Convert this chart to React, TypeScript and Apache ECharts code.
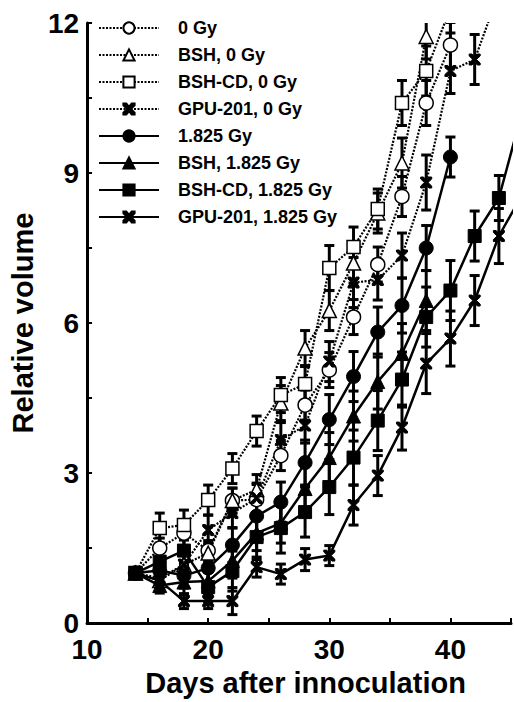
import React, { useEffect, useRef } from "react";
import * as echarts from "echarts";

const days = [14, 16, 18, 20, 22, 24, 26, 28, 30, 32, 34, 36, 38, 40, 42, 44, 46];

const seriesNames = [
  "0 Gy",
  "BSH, 0 Gy",
  "BSH-CD, 0 Gy",
  "GPU-201, 0 Gy",
  "1.825 Gy",
  "BSH, 1.825 Gy",
  "BSH-CD, 1.825 Gy",
  "GPU-201, 1.825 Gy",
];

const gy0 = [1.0, 1.5, 1.8, 1.45, 2.45, 2.47, 3.35, 4.36, 5.06, 6.12, 7.17, 8.53, 10.4, 11.56, null, null, null];
const gy0Err = [0, 0.2, 0.25, 0.2, 0.25, 0.3, 0.3, 0.3, 0.35, 0.35, 0.35, 0.4, 0.45, 0.45, null, null, null];

const bsh0 = [1.0, 0.85, 1.17, 1.4, 2.45, 2.67, 4.4, 5.5, 6.25, 7.2, 8.2, 9.2, 11.73, null, null, null, null];
const bsh0Err = [0, 0.15, 0.2, 0.2, 0.25, 0.3, 0.35, 0.35, 0.4, 0.4, 0.4, 0.5, 0.45, null, null, null, null];

const bshcd0 = [1.0, 1.9, 1.96, 2.46, 3.09, 3.84, 4.56, 4.78, 7.1, 7.52, 8.28, 10.4, 11.04, 12.3, null, null, null];
const bshcd0Err = [0, 0.3, 0.3, 0.3, 0.3, 0.3, 0.35, 0.35, 0.45, 0.4, 0.4, 0.45, 0.5, 0.5, null, null, null];

const gpu0 = [1.0, 0.9, 1.17, 1.86, 2.2, 2.5, 3.66, 3.95, 5.23, 6.81, 6.86, 7.35, 8.81, 11.04, 11.27, 12.6, null];
const gpu0Err = [0, 0.2, 0.2, 0.3, 0.3, 0.3, 0.35, 0.35, 0.4, 0.5, 0.4, 0.45, 0.55, 0.45, 0.5, 0.5, null];

const gy18 = [1.0, 1.05, 0.95, 1.1, 1.56, 2.14, 2.42, 3.21, 4.07, 4.93, 5.82, 6.35, 7.5, 9.32, null, null, null];
const gy18Err = [0, 0.25, 0.25, 0.3, 0.35, 0.35, 0.4, 0.45, 0.5, 0.5, 0.5, 0.55, 0.45, 0.4, null, null, null];

const bsh18 = [1.0, 0.75, 0.82, 0.84, 1.25, 1.8, 2.0, 2.69, 3.31, 4.14, 4.83, 5.39, 6.45, null, null, null, null];
const bsh18Err = [0, 0.15, 0.25, 0.3, 0.35, 0.35, 0.4, 0.45, 0.5, 0.5, 0.55, 0.6, 0.6, null, null, null, null];

const bshcd18 = [1.0, 1.23, 1.45, 0.72, 1.04, 1.72, 1.9, 2.22, 2.72, 3.31, 4.05, 4.87, 6.12, 6.65, 7.74, 8.5, 10.3];
const bshcd18Err = [0, 0.3, 0.3, 0.3, 0.4, 0.45, 0.5, 0.5, 0.55, 0.55, 0.6, 0.55, 0.6, 0.6, 0.5, 0.45, null];

const gpu18 = [1.0, 0.85, 0.44, 0.44, 0.44, 1.12, 0.98, 1.27, 1.35, 2.36, 2.95, 3.91, 5.19, 5.69, 6.45, 7.74, 8.6];
const gpu18Err = [0, 0.2, 0.15, 0.15, 0.27, 0.2, 0.2, 0.22, 0.2, 0.4, 0.4, 0.45, 0.6, 0.55, 0.5, 0.55, null];

const xTicks = [10, 20, 30, 40];
const yTicks = [0, 3, 6, 9, 12];

const FONT = "'Liberation Sans', Arial, Helvetica, sans-serif";
const X_PATH =
  "path://M0,0 L2.6,0 L5,3 L7.4,0 L10,0 L10,1.8 L6.6,5 L10,8.2 L10,10 L7.4,10 L5,7 L2.6,10 L0,10 L0,8.2 L3.4,5 L0,1.8 Z";

export default function App() {
  const ref = useRef<HTMLDivElement>(null);

  useEffect(() => {
    if (!ref.current) return;
    const chart = echarts.init(ref.current, undefined, { renderer: "svg" });

    const defs = [
      { name: seriesNames[0], data: gy0, err: gy0Err, symbol: "circle", filled: false, dotted: true },
      { name: seriesNames[1], data: bsh0, err: bsh0Err, symbol: "triangle", filled: false, dotted: true },
      { name: seriesNames[2], data: bshcd0, err: bshcd0Err, symbol: "rect", filled: false, dotted: true },
      { name: seriesNames[3], data: gpu0, err: gpu0Err, symbol: X_PATH, filled: true, dotted: true },
      { name: seriesNames[4], data: gy18, err: gy18Err, symbol: "circle", filled: true, dotted: false },
      { name: seriesNames[5], data: bsh18, err: bsh18Err, symbol: "triangle", filled: true, dotted: false },
      { name: seriesNames[6], data: bshcd18, err: bshcd18Err, symbol: "rect", filled: true, dotted: false },
      { name: seriesNames[7], data: gpu18, err: gpu18Err, symbol: X_PATH, filled: true, dotted: false },
    ];

    const errSeries = defs.map((d) => ({
      type: "custom",
      name: d.name + " err",
      clip: true,
      z: 1,
      silent: true,
      data: days
        .map((x, i) => {
          const v = d.data[i];
          const e = d.err[i];
          if (v == null || e == null || e === 0) return null;
          return [x, v - e, v + e];
        })
        .filter((p) => p !== null),
      renderItem: (params: any, api: any) => {
        const x = api.value(0);
        const lo = api.value(1);
        const hi = api.value(2);
        const p1 = api.coord([x, hi]);
        const p2 = api.coord([x, lo]);
        const w = 5;
        const st = { stroke: "#000", lineWidth: 3 };
        return {
          type: "group",
          children: [
            { type: "line", shape: { x1: p1[0], y1: p1[1], x2: p2[0], y2: p2[1] }, style: st },
            { type: "line", shape: { x1: p1[0] - w, y1: p1[1], x2: p1[0] + w, y2: p1[1] }, style: st },
            { type: "line", shape: { x1: p2[0] - w, y1: p2[1], x2: p2[0] + w, y2: p2[1] }, style: st },
          ],
        };
      },
    }));

    const lineSeries = defs.map((d) => ({
      type: "line",
      name: d.name,
      z: 3,
      clip: true,
      connectNulls: false,
      data: days.map((x, i) => [x, d.data[i]]).filter((p) => p[1] != null),
      symbol: d.symbol,
      symbolSize: d.symbol === "triangle" ? 14 : d.symbol === "rect" ? 13 : d.symbol === X_PATH ? 11 : 14,
      showAllSymbol: true,
      lineStyle: d.dotted
        ? { color: "#000", width: 2.2, type: [2, 1.5] }
        : { color: "#000", width: 2.5, type: "solid" },
      itemStyle: d.filled
        ? { color: "#000", borderColor: "#000", borderWidth: 1 }
        : { color: "#fff", borderColor: "#000", borderWidth: 1.5 },
    }));

    chart.setOption({
      animation: false,
      backgroundColor: "#fff",
      grid: { left: 83, top: 23, right: 2, bottom: 73, containLabel: false },
      legend: {
        orient: "vertical",
        left: 93,
        top: 14,
        itemWidth: 60,
        itemHeight: 14,
        itemGap: 9,
        data: seriesNames,
        selectedMode: false,
        textStyle: {
          fontFamily: FONT,
          fontWeight: "bold",
          fontSize: 18,
          lineHeight: 14,
          color: "#000",
          padding: [0, 0, 0, 14],
        },
      },
      xAxis: {
        type: "value",
        min: 10,
        max: 45,
        interval: 5,
        name: "Days after innoculation",
        nameLocation: "middle",
        nameGap: 38,
        nameTextStyle: { fontFamily: FONT, fontWeight: "bold", fontSize: 29, color: "#000", padding: [0, 0, 0, 13] },
        axisLine: { lineStyle: { color: "#000", width: 3 } },
        axisTick: { inside: true, length: 5, lineStyle: { color: "#000", width: 2 } },
        axisLabel: {
          margin: 12,
          fontFamily: FONT,
          fontWeight: "bold",
          fontSize: 28,
          color: "#000",
          formatter: (v: number) => (xTicks.includes(v) ? String(v) : ""),
        },
        splitLine: { show: false },
      },
      yAxis: {
        type: "value",
        min: 0,
        max: 12,
        interval: 1.5,
        name: "Relative volume",
        nameLocation: "middle",
        nameGap: 44,
        nameTextStyle: { fontFamily: FONT, fontWeight: "bold", fontSize: 29, color: "#000" },
        axisLine: { lineStyle: { color: "#000", width: 3 } },
        axisTick: { inside: true, length: 5, lineStyle: { color: "#000", width: 2 } },
        axisLabel: {
          margin: 8,
          fontFamily: FONT,
          fontWeight: "bold",
          fontSize: 28,
          color: "#000",
          formatter: (v: number) => (yTicks.includes(v) ? String(v) : ""),
        },
        splitLine: { show: false },
      },
      series: [...errSeries, ...lineSeries],
    });

    return () => chart.dispose();
  }, []);

  return (
    <div
      ref={ref}
      style={{ position: "fixed", left: 0, top: 0, width: 514, height: 702, background: "#fff" }}
    />
  );
}
